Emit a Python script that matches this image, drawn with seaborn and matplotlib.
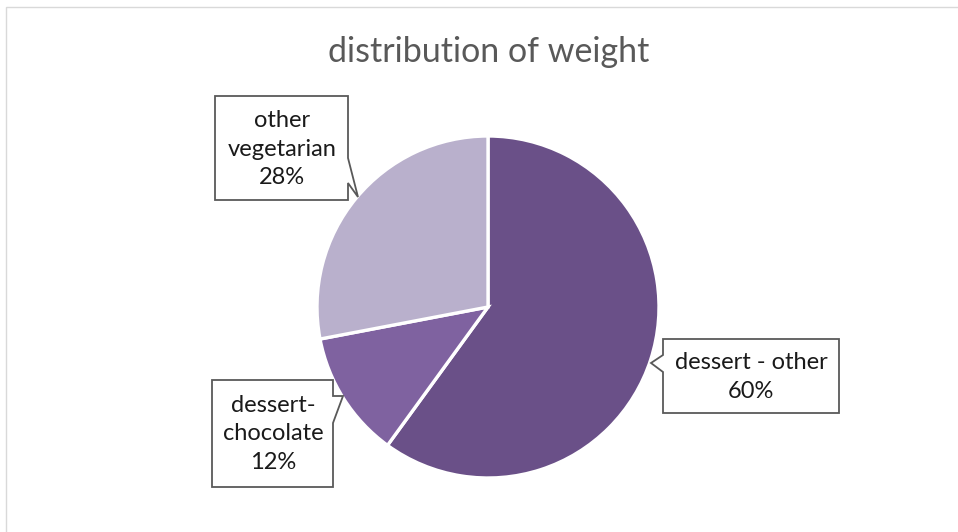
import matplotlib
matplotlib.use("Agg")
import matplotlib.pyplot as plt
from matplotlib.patches import Polygon, Rectangle
import seaborn as sns

# Share of total weight by food category
categories = ["dessert - other", "dessert-chocolate", "other vegetarian"]
label_lines = ["dessert - other", "dessert-\nchocolate", "other\nvegetarian"]
shares = [60, 12, 28]
colors = ["#6A5088", "#7F62A0", "#B9B0CC"]
title = "distribution of weight"

sns.set_theme(style="white")
plt.rcParams["font.family"] = ["Lato", "DejaVu Sans"]

W, H = 958, 532
fig = plt.figure(figsize=(W / 100, H / 100), dpi=100)
ax = fig.add_axes([0, 0, 1, 1])


def Y(y):
    # pixel row (top-down) to axis y (bottom-up)
    return H - y


cx, cy, r = 488, 307, 171
ax.pie(shares, colors=colors, startangle=90, counterclock=False,
       center=(cx, Y(cy)), radius=r,
       wedgeprops=dict(edgecolor="white", linewidth=2.4))

ax.set_xlim(0, W)
ax.set_ylim(0, H)
ax.set_aspect("auto")
ax.axis("off")

# chart area frame
ax.add_patch(Rectangle((6, -20), W + 40, Y(7) + 20, fill=False,
                       edgecolor="#D9D9D9", linewidth=1.0, zorder=0))

ax.text(489, Y(52), title, ha="center", va="center",
        fontsize=24.5, color="#595959")

# callout outlines: box with a wedge pointing at the slice (pixel coords)
callouts = {
    "other vegetarian": [(215, 96), (348, 96), (348, 158), (358, 197),
                         (348, 183), (348, 200), (215, 200)],
    "dessert - other": [(663, 339), (839, 339), (839, 413), (663, 413),
                        (663, 372), (651, 363), (663, 355)],
    "dessert-chocolate": [(212, 380), (333, 380), (333, 396), (343, 396),
                          (333, 423), (333, 487), (212, 487)],
}
text_centers = {
    "other vegetarian": (282, 149),
    "dessert - other": (751, 377),
    "dessert-chocolate": (273, 434),
}

for cat, lines, val in zip(categories, label_lines, shares):
    pts = [(x, Y(y)) for x, y in callouts[cat]]
    ax.add_patch(Polygon(pts, closed=True, facecolor="white",
                         edgecolor="#595959", linewidth=1.3, zorder=3))
    tx, ty = text_centers[cat]
    ax.text(tx, Y(ty), f"{lines}\n{val}%", ha="center", va="center",
            fontsize=17, color="#1a1a1a", linespacing=1.45, zorder=4)

fig.savefig("out.png", dpi=100, facecolor="white")
